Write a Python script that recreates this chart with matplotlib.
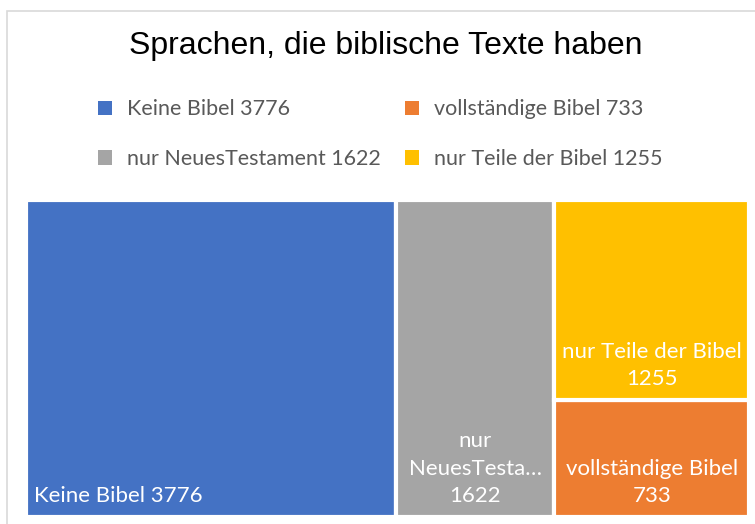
import matplotlib.pyplot as plt
from matplotlib.patches import Rectangle, Patch

# data, legend order as in the reference
labels = ['Keine Bibel', 'vollständige Bibel', 'nur NeuesTestament', 'nur Teile der Bibel']
values = [3776, 733, 1622, 1255]
colors = ['#4472c4', '#ed7d31', '#a5a5a5', '#ffc000']
box_text = ['Keine Bibel 3776', 'vollständige Bibel\n733', 'nur\nNeuesTesta…\n1622', 'nur Teile der Bibel\n1255']

title = 'Sprachen, die biblische Texte haben'

W, H = 755, 524
fig = plt.figure(figsize=(W / 100, H / 100), dpi=100)

# light chart-area frame (cut off at right/bottom like the screenshot)
fig.patches.append(Rectangle((7 / W, -0.1), 1.2, (H - 11) / H + 0.1, transform=fig.transFigure,
                             facecolor='none', edgecolor='#d9d9d9', linewidth=1.2, zorder=-1))

fig.text(386 / W, 1 - 46 / H, title, ha='center', va='center', fontsize=23,
         family='Liberation Sans', color='black')

ax = fig.add_axes([26 / W, 7 / H, (749 - 26) / W, (517 - 200) / H])
total = sum(values)
ax.set_xlim(0, total)
ax.set_ylim(0, 1)
ax.axis('off')

# slice-and-dice layout: Keine | NT | (Teile over vollständige)
i_keine, i_voll, i_nt, i_teile = 0, 1, 2, 3
rects = {}
x = 0
for i in (i_keine, i_nt):
    rects[i] = (x, 0, values[i], 1)
    x += values[i]
rest = values[i_voll] + values[i_teile]
rects[i_voll] = (x, 0, rest, values[i_voll] / rest)
rects[i_teile] = (x, values[i_voll] / rest, rest, values[i_teile] / rest)

for i, (x0, y0, w, h) in rects.items():
    ax.add_patch(Rectangle((x0, y0), w, h, facecolor=colors[i], edgecolor='white', linewidth=3))
    if i == i_keine:
        ax.annotate(box_text[i], (x0, y0), xytext=(6, 8), textcoords='offset points',
                    ha='left', va='bottom', color='white', fontsize=16, family='Lato')
    else:
        ax.annotate(box_text[i], (x0 + w / 2, y0), xytext=(0, 8), textcoords='offset points',
                    ha='center', va='bottom', color='white', fontsize=16, family='Lato',
                    linespacing=1.45, multialignment='center')

handles = [Patch(facecolor=c, edgecolor='none') for c in colors]
leg_labels = [f'{l} {v}' for l, v in zip(labels, values)]
# ncol=2 fills column-wise, so reorder to get row-wise reading
order = [0, 2, 1, 3]
fig.legend([handles[k] for k in order], [leg_labels[k] for k in order], ncol=2,
           loc='upper left', bbox_to_anchor=(79 / W, 1 - 80 / H), frameon=False,
           prop={'family': 'Lato', 'size': 15.5}, labelcolor='#595959',
           handlelength=0.65, handleheight=0.65, handletextpad=0.7,
           columnspacing=1.1, labelspacing=1.38)

fig.savefig('out.png', dpi=100)
